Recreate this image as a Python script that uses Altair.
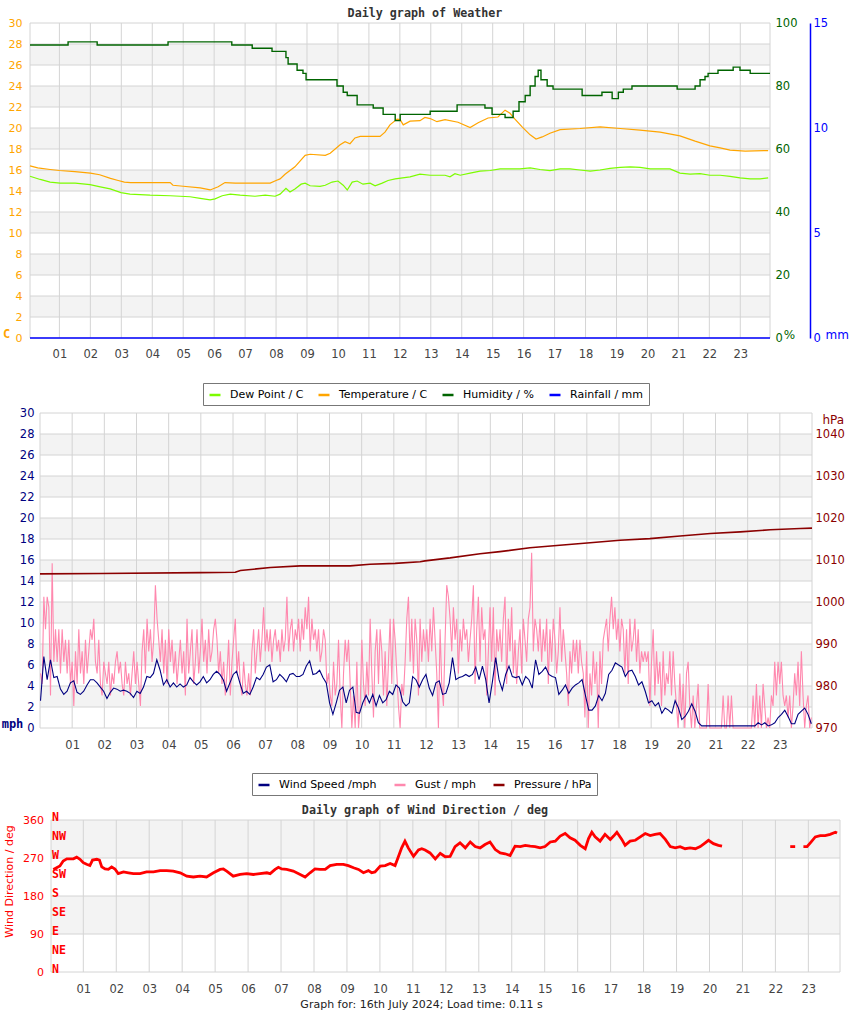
import altair as alt
import numpy as np
import pandas as pd

# ---------------------------------------------------------------- data
HOURS = list(range(1, 24))
TEMP_TICKS = list(range(0, 31, 2))
HUM_TICKS = [0, 20, 40, 60, 80, 100]
RAIN_TICKS = [0, 5, 10, 15]
WIND_TICKS = list(range(0, 31, 2))
PRES_TICKS = [970, 980, 990, 1000, 1010, 1020, 1030, 1040]
DIR_TICKS = [0, 90, 180, 270, 360]

P1_SERIES = ["Dew Point / C", "Temperature / C", "Humidity / %", "Rainfall / mm"]
P1_COLORS = ["#7cfc00", "#ffa500", "#006400", "#0000ff"]
P2_SERIES = ["Wind Speed /mph", "Gust / mph", "Pressure / hPa"]
P2_COLORS = ["#000080", "#ff88ae", "#8b0000"]

temp_h = [0.05, 0.3, 0.7, 1.0, 1.5, 2.0, 2.3, 2.65, 2.9, 3.1, 3.3, 4.58, 4.67, 5.0, 5.55, 5.87, 6.13, 6.35, 6.68, 7.81,
          8.0, 8.13, 8.29, 8.61, 8.94, 9.1, 9.59, 9.75, 10.07, 10.23, 10.39, 10.55, 10.72, 11.36, 11.52, 11.68, 11.91,
          12.01, 12.11, 12.33, 12.65, 12.81, 12.98, 13.2, 13.46, 13.88, 14.27, 14.53, 14.85, 15.17, 15.4, 15.56, 15.72,
          15.95, 16.21, 16.4, 16.6, 16.85, 17.18, 17.82, 18.47, 19.12, 19.76, 20.41, 21.05, 21.54, 22.02, 22.35, 22.67,
          23.16, 23.9]
temp_v = [16.4, 16.2, 16.05, 15.95, 15.85, 15.7, 15.55, 15.2, 15.0, 14.85, 14.8, 14.8, 14.55, 14.45, 14.3, 14.1, 14.4,
          14.8, 14.75, 14.75, 15.0, 15.15, 15.6, 16.3, 17.4, 17.5, 17.4, 17.6, 18.4, 18.7, 18.5, 19.05, 19.2, 19.2, 19.6,
          20.3, 20.85, 20.8, 20.3, 20.65, 20.7, 21.0, 20.9, 20.6, 20.8, 20.55, 20.05, 20.5, 20.95, 21.05, 21.7, 21.4,
          20.85, 20.1, 19.35, 18.95, 19.15, 19.5, 19.85, 19.95, 20.1, 19.95, 19.8, 19.6, 19.25, 18.75, 18.3, 18.1, 17.9,
          17.8, 17.85]

dew_h = [0.05, 0.38, 0.70, 1.02, 1.51, 1.99, 2.32, 2.64, 2.99, 3.28, 3.93, 4.58, 4.90, 5.22, 5.55, 5.87, 6.03, 6.26,
         6.52, 6.84, 7.32, 7.65, 7.97, 8.13, 8.32, 8.45, 8.61, 8.81, 8.94, 9.10, 9.42, 9.59, 9.81, 10.0, 10.17, 10.30,
         10.46, 10.62, 10.81, 11.04, 11.20, 11.43, 11.62, 11.85, 12.33, 12.65, 12.98, 13.46, 13.62, 13.78, 13.95, 14.27,
         14.59, 14.92, 15.24, 15.56, 15.88, 16.21, 16.53, 16.85, 17.18, 17.50, 17.82, 18.15, 18.47, 18.79, 19.12, 19.44,
         19.76, 20.09, 20.41, 20.73, 21.05, 21.38, 21.70, 22.02, 22.35, 22.67, 22.99, 23.32, 23.64, 23.90]
dew_v = [15.4, 15.1, 14.85, 14.75, 14.75, 14.6, 14.4, 14.2, 13.85, 13.7, 13.6, 13.55, 13.5, 13.45, 13.3, 13.15, 13.25,
         13.55, 13.7, 13.6, 13.5, 13.6, 13.5, 13.7, 14.25, 13.9, 14.2, 14.65, 14.75, 14.5, 14.45, 14.55, 14.85, 14.95,
         14.55, 14.1, 14.85, 14.95, 14.65, 14.75, 14.5, 14.75, 15.0, 15.15, 15.35, 15.6, 15.5, 15.5, 15.35, 15.65, 15.5,
         15.7, 15.9, 15.95, 16.1, 16.1, 16.1, 16.2, 16.05, 15.95, 16.1, 16.1, 16.0, 15.9, 16.0, 16.15, 16.25, 16.3,
         16.25, 16.1, 16.1, 16.1, 15.7, 15.6, 15.65, 15.5, 15.5, 15.4, 15.25, 15.15, 15.15, 15.25]

hum_h = [0.05, 1.28, 2.22, 4.51, 6.57, 7.23, 7.87, 8.32, 8.39, 8.68, 8.87, 8.97, 9.97, 10.17, 10.30, 10.62, 11.14,
         11.46, 11.85, 12.01, 12.98, 13.85, 14.75, 14.98, 15.40, 15.66, 15.85, 16.05, 16.21, 16.37, 16.47, 16.56, 16.76,
         16.95, 17.89, 18.53, 18.86, 19.06, 19.22, 19.50, 20.96, 21.54, 21.70, 21.86, 21.96, 22.28, 22.77, 22.99, 23.32,
         23.96]
hum_v = [93, 94, 93, 94, 93, 92, 91, 89, 87, 85, 84, 82, 80, 78, 77, 74, 73, 71, 69, 71, 72, 74, 73, 71, 70, 72, 75, 77,
         80, 83, 85, 82, 80, 79, 77, 78, 76, 78, 79, 80, 79, 80, 82, 83, 84, 85, 86, 85, 84, 84]

rain_h = [0.05, 23.96]
rain_v = [0.0, 0.0]

pres_h = [0.0, 1.88, 4.98, 6.07, 6.23, 7.16, 8.09, 9.02, 9.64, 10.26, 11.04, 11.82, 11.97, 12.75, 13.68, 14.30, 15.23,
          16.16, 17.10, 18.03, 18.96, 19.90, 20.84, 21.77, 22.70, 23.64, 24.0]
pres_v = [1006.7, 1006.8, 1007.0, 1007.1, 1007.5, 1008.2, 1008.6, 1008.6, 1008.6, 1009.0, 1009.2, 1009.6, 1009.8,
          1010.5, 1011.5, 1012.0, 1012.9, 1013.5, 1014.1, 1014.7, 1015.1, 1015.7, 1016.3, 1016.7, 1017.2, 1017.5,
          1017.6]

# wind speed, logged on a regular grid through the day
wind_v = [2.6, 6.8, 4.6, 6.5, 4.8, 4.9, 3.7, 3.2, 3.5, 4.3, 4.5, 3.4, 3.2, 3.5, 4.1, 4.6, 4.6, 4.3, 3.9, 3.5,
          2.8, 3.4, 3.8, 3.7, 3.5, 3.6, 3.5, 3.3, 2.9, 3.5, 3.3, 3.9, 4.9, 4.8, 5.2, 6.5, 5.5, 4.1, 4.6, 3.9,
          4.3, 3.9, 4.2, 3.9, 4.1, 4.8, 4.4, 4.1, 4.4, 4.9, 4.3, 4.6, 5.1, 5.4, 5.1, 4.6, 3.5, 4.3, 5.1, 5.4,
          4.3, 3.3, 3.5, 3.2, 3.9, 4.8, 4.6, 5.1, 5.8, 6.0, 4.4, 4.6, 5.1, 4.8, 4.4, 5.1, 5.2, 4.9, 4.9, 5.1,
          5.9, 6.4, 5.1, 5.2, 5.5, 4.8, 4.3, 2.4, 1.3, 2.4, 3.6, 3.9, 2.4, 3.6, 3.9, 1.5, 1.4, 2.4, 3.1, 2.4,
          3.2, 2.1, 3.1, 2.4, 2.7, 3.5, 3.2, 4.1, 3.8, 2.5, 2.1, 2.4, 4.9, 4.6, 3.9, 4.6,
          5.1, 3.8, 3.1, 4.3, 4.5, 3.2, 3.3, 4.3, 6.7, 4.6, 4.8, 4.9, 5.1, 4.9, 5.1, 5.8, 4.6, 5.9, 4.6, 2.4,
          4.4, 6.7, 4.6, 3.6, 5.1, 5.9, 4.9, 4.8, 4.9, 4.1, 4.9, 4.6, 3.8, 6.5, 5.1, 5.4, 5.8, 5.1, 4.9, 4.8,
          3.2, 3.6, 4.1, 3.3, 3.8, 4.1, 4.3, 4.6, 3.1, 1.7, 1.7, 2.1, 3.1, 2.6, 3.3, 5.1, 5.5, 6.2, 6.0, 5.8,
          4.9, 5.4, 5.5, 4.9, 4.1, 4.4, 3.5, 2.4, 2.6, 2.1, 2.4, 1.4, 1.9, 1.7, 1.4, 2.6, 1.9, 0.8, 1.1, 1.6,
          2.3, 1.6, 0.5, 0.2, 0.2, 0.2, 0.2, 0.2, 0.2, 0.2, 0.2, 0.2, 0.2, 0.2, 0.2, 0.2, 0.2, 0.2, 0.2, 0.2,
          0.5, 0.3, 0.5, 0.2, 0.3, 0.5, 1.0, 1.3, 1.7, 1.1, 0.4, 0.4, 1.3, 1.6, 1.9, 1.3, 0.4]

gust_v = [5.2, 4.2, 12.5, 9.4, 12.5, 11.5, 3.1, 15.7, 6.3, 9.4, 6.3, 9.4, 5.2, 9.4, 6.3, 8.4, 5.2, 8.4, 4.2, 6.3,
          2.1, 7.3, 4.2, 9.4, 5.2, 7.3, 4.2, 8.4, 5.2, 7.3, 9.4, 8.4, 10.4, 6.3, 5.2, 8.4, 4.2, 3.1, 6.3, 5.2,
          4.2, 6.3, 3.1, 5.2, 4.2, 6.3, 7.3, 5.2, 6.3, 4.2, 3.1, 6.3, 4.2, 5.2, 3.1, 5.2, 7.3, 4.2, 6.3, 4.2,
          2.1, 7.3, 9.4, 5.2, 10.4, 7.3, 9.4, 6.3, 8.4, 13.6, 10.4, 8.4, 6.3, 9.4, 5.2, 8.4, 4.2, 9.4, 6.3, 8.4,
          5.2, 7.3, 4.2, 6.3, 8.4, 5.2, 7.3, 3.1, 10.4, 5.2, 7.3, 9.4, 4.2, 6.3, 9.4, 5.2, 7.3, 10.4, 6.3, 8.4,
          5.2, 9.4, 6.3, 7.3, 9.4, 10.4, 8.4, 5.2, 7.3, 4.2, 6.3, 3.1, 5.2, 8.4, 3.1, 6.3, 8.4, 10.4, 5.2, 7.3,
          4.2, 3.1, 6.3, 4.2, 3.1, 5.2, 3.1, 7.3, 9.4, 5.2, 7.3, 9.4, 6.3, 8.4, 11.5, 7.3, 9.4, 7.3, 9.4, 6.3,
          8.4, 9.4, 7.3, 8.4, 6.3, 9.4, 7.3, 8.4, 12.5, 7.3, 9.4, 10.4, 7.3, 9.4, 8.4, 10.4, 7.3, 10.4, 8.4, 11.5,
          9.4, 12.5, 7.3, 10.4, 8.4, 9.4, 7.3, 9.4, 6.3, 7.3, 9.4, 8.4, 4.2, 5.2, 3.1, 2.1, 6.3, 3.1, 4.2, 8.4,
          3.1, 0, 5.2, 8.4, 6.3, 8.4, 4.2, 0, 3.1, 0, 6.3, 0, 2.1, 8.4, 4.2, 2.1, 6.3, 3.1, 10.4, 5.2,
          1.0, 7.3, 9.4, 4.2, 9.4, 7.3, 3.1, 7.3, 2.1, 6.3, 10.4, 4.2, 10.4, 8.4, 5.2, 2.1, 0, 4.2, 3.1, 6.3,
          10.4, 12.5, 6.3, 10.4, 5.2, 10.4, 8.4, 3.1, 10.4, 6.3, 9.4,
          7.3, 9.4, 6.3, 10.4, 7.3, 11.5, 8.4, 5.2, 0, 9.4, 4.2, 2.1, 8.4, 13.6, 12.5, 10.4, 7.3, 11.5, 8.4, 10.4,
          5.2, 9.4, 7.3, 10.4, 8.4, 9.4, 6.3, 8.4, 10.4, 13.6, 4.2, 9.4, 12.5, 6.3, 11.5, 8.4, 9.4, 3.1, 7.3, 11.5,
          6.3, 11.5, 3.1, 9.4, 7.3, 9.4, 6.3, 10.4, 12.5, 4.2, 10.4, 7.3, 11.5, 5.2, 8.4, 4.2, 7.3, 9.4, 5.2, 10.4,
          8.4, 6.3, 10.4, 11.5, 16.7, 7.3, 10.4, 9.4, 7.3, 10.4, 6.3, 9.4, 7.3, 10.4, 4.2, 9.4, 6.3, 10.4, 8.4, 5.2,
          7.3, 11.5, 6.3, 9.4, 7.3, 5.2, 2.1, 7.3, 5.2, 8.4, 6.3, 8.4, 5.2, 8.4, 6.3, 5.2, 1.0, 7.3, 0, 5.2,
          3.1, 7.3, 4.2, 6.3, 0, 7.3, 4.2, 8.4, 9.4, 10.4, 7.3, 10.4, 12.5, 9.4, 11.5, 8.4, 10.4, 7.3, 10.4, 9.4,
          5.2, 9.4, 4.2, 10.4, 7.3, 8.4, 10.4, 6.3, 9.4, 5.2, 7.3, 6.3, 7.3, 6.3, 7.3, 2.1, 6.3, 9.4, 3.1, 7.3,
          4.2, 6.3, 2.1, 7.3, 3.1, 5.2, 4.2, 7.3, 3.1, 7.3, 4.2, 2.1, 0, 5.2, 1.0, 4.2, 0, 5.2, 6.3, 2.1,
          0, 3.1, 0, 2.1, 4.2, 0, 0, 0, 0, 0, 4.2, 0, 0, 0, 0, 0, 0, 0, 0, 3.1,
          0, 0, 3.1, 0, 3.1, 0, 0, 0, 0, 0, 0, 0, 0, 0, 0, 0, 0, 3.1, 0, 4.2,
          0, 3.1, 0, 4.2, 2.1, 0, 1.0, 0, 3.1, 2.1, 6.3, 3.1, 6.3, 4.2, 6.3, 3.1, 2.1, 3.1, 1.0, 3.1,
          0, 2.1, 5.2, 3.1, 6.3, 2.1, 7.3, 3.1, 0, 2.1, 3.1, 0, 1.0]

dir_h = [0.09, 0.19, 0.29, 0.39, 0.50, 0.70, 0.80, 0.90, 1.00, 1.10, 1.20, 1.28, 1.41, 1.49, 1.56, 1.66, 1.76, 1.86,
         1.96, 2.06, 2.22, 2.37, 2.52, 2.72, 2.92, 3.13, 3.33, 3.53, 3.73, 3.94, 4.14, 4.34, 4.54, 4.74, 4.95, 5.15,
         5.25, 5.35, 5.55, 5.76, 5.96, 6.16, 6.36, 6.57, 6.67, 6.82, 6.92, 7.02, 7.17, 7.37, 7.58, 7.73, 7.88, 8.03,
         8.18, 8.34, 8.49, 8.69, 8.89, 9.04, 9.20, 9.35, 9.50, 9.65, 9.75, 9.85, 10.01, 10.16, 10.31, 10.46, 10.56,
         10.66, 10.76, 10.86, 11.02, 11.17, 11.27, 11.37, 11.52, 11.68, 11.83, 11.98, 12.13, 12.28, 12.43, 12.59,
         12.74, 12.89, 13.04, 13.19, 13.34, 13.50, 13.65, 13.80, 13.95, 14.10, 14.26, 14.41, 14.56, 14.71, 14.86,
         15.01, 15.17, 15.32, 15.47, 15.62, 15.77, 15.92, 16.08, 16.23, 16.33, 16.43, 16.53, 16.68, 16.83, 16.99,
         17.09, 17.19, 17.34, 17.44, 17.59, 17.75, 17.90, 18.05, 18.20, 18.35, 18.50, 18.66, 18.81, 18.96, 19.11,
         19.26, 19.41, 19.57, 19.72, 19.87, 19.97, 20.12, 20.27, 20.38]
dir_v = [243, 247, 251, 263, 268, 268, 272, 267, 259, 255, 252, 265, 267, 265, 249, 244, 243, 249, 244, 233,
         237, 235, 233, 233, 237, 237, 240, 240, 239, 235, 227, 225, 227, 225, 235, 243, 244, 239, 227, 231,
         233, 231, 233, 235, 233, 243, 248, 244, 243, 239, 231, 225, 235, 244, 243, 243, 252, 255, 255, 252,
         247, 243, 235, 240, 235, 237, 251, 252, 257, 252, 273, 294, 310, 294, 274, 289, 292, 289, 282, 268,
         281, 273, 274, 297, 306, 294, 308, 297, 294, 302, 308, 290, 282, 280, 276, 298, 297, 300, 298, 297,
         294, 297, 308, 310, 322, 328, 318, 312, 300, 292, 316, 331, 320, 310, 326, 314, 322, 331, 314, 300,
         310, 312, 320, 328, 323, 326, 328, 314, 297, 294, 297, 292, 294, 292, 297, 306, 312, 304, 300, 298]
dir2_h = [22.45, 22.60]
dir2_v = [297, 297]
dir3_h = [22.85, 22.96, 23.06, 23.21, 23.36, 23.51, 23.66, 23.82, 23.87]
dir3_v = [297, 297, 306, 320, 323, 323, 326, 331, 329]

COMPASS = ["N", "NE", "E", "SE", "S", "SW", "W", "NW", "N"]
COMPASS_DEG = [0, 45, 90, 135, 180, 225, 270, 315, 360]

# ---------------------------------------------------------------- layout / style
W, H = 850, 1017
FONT = "DejaVu Sans"
MONO = "DejaVu Sans Mono"
GRID = "#d4d4d4"
BAND = "#f3f3f3"

P1 = (30, 770, 23, 338)     # x0, x1, y0(top), y1(bottom) of the plot areas
P2 = (40, 812, 413, 728)
P3 = (51, 840, 820, 972)
X1_DOM = [0.05, 23.96]
X2_DOM = [0.0, 24.0]
X3_DOM = [0.02, 23.96]


def xsc(p, dom):
    return alt.Scale(domain=list(dom), range=[p[0], p[1]], nice=False, zero=False)


def ysc(p, dom):
    return alt.Scale(domain=list(dom), range=[p[3], p[2]], nice=False, zero=False)


def background(p, xdom, ydom, band_lo, band_hi, grid_y):
    xs, ys = xsc(p, xdom), ysc(p, ydom)
    bands = alt.Chart(pd.DataFrame({"lo": band_lo, "hi": band_hi})).mark_rect(color=BAND).encode(
        x=alt.XDatum(xdom[0], type="quantitative", scale=xs, axis=None),
        x2=alt.X2Datum(xdom[1]),
        y=alt.Y("lo:Q", scale=ys, axis=None),
        y2=alt.Y2("hi"),
    )
    hgrid = alt.Chart(pd.DataFrame({"v": grid_y})).mark_rule(color=GRID, strokeWidth=1).encode(
        x=alt.XDatum(xdom[0], type="quantitative", scale=xs, axis=None),
        x2=alt.X2Datum(xdom[1]),
        y=alt.Y("v:Q", scale=ys, axis=None),
    )
    vgrid = alt.Chart(pd.DataFrame({"h": HOURS})).mark_rule(color=GRID, strokeWidth=1).encode(
        x=alt.X("h:Q", scale=xs, axis=None),
        y=alt.YDatum(ydom[0], type="quantitative", scale=ys, axis=None),
        y2=alt.Y2Datum(ydom[1]),
    )
    frame = alt.Chart(alt.Data(values=[{}])).mark_rect(fillOpacity=0, stroke=GRID, strokeWidth=1).encode(
        x=alt.XDatum(xdom[0], type="quantitative", scale=xs, axis=None),
        x2=alt.X2Datum(xdom[1]),
        y=alt.YDatum(ydom[0], type="quantitative", scale=ys, axis=None),
        y2=alt.Y2Datum(ydom[1]),
    )
    return [bands, hgrid, vgrid, frame]


def ax(orient, offset, values, color, pad, size=11.5, **kw):
    return alt.Axis(orient=orient, offset=offset, values=values, labelColor=color, labelFont=FONT,
                    labelFontSize=size, labelPadding=pad, ticks=False, tickSize=0, grid=False,
                    labelFlush=False, labelOverlap=False, **kw)


def hour_axis(p, pad):
    return ax("bottom", p[3] - H, HOURS, "#444", pad, domain=False, title=None,
              labelExpr="(datum.value < 10 ? '0' : '') + datum.value")


def legend(x, y, cp):
    return alt.Legend(orient="none", legendX=x, legendY=y, direction="horizontal", title=None,
                      symbolType="stroke", symbolSize=121, symbolStrokeWidth=2.5, labelFont=FONT,
                      labelFontSize=11, labelColor="#000", fillColor="white", strokeColor="#777",
                      padding=5, columnPadding=cp, labelOffset=8, cornerRadius=0, labelLimit=300)


def text_layer(txt, x, y, font=MONO, size=11.7, weight="bold", color="#333"):
    return alt.Chart(alt.Data(values=[{}])).mark_text(
        text=txt, font=font, fontSize=size, fontWeight=weight, color=color, align="center",
        baseline="middle").encode(x=alt.value(x), y=alt.value(y))


layers = []

# ---------------------------------------------------------------- panel 1: weather
xs1 = xsc(P1, X1_DOM)
layers += background(P1, X1_DOM, [0, 30], [2, 6, 10, 14, 18, 22, 26], [4, 8, 12, 16, 20, 24, 28],
                     list(range(2, 30, 2)))

td = pd.concat([
    pd.DataFrame({"h": dew_h, "v": dew_v, "s": P1_SERIES[0]}),
    pd.DataFrame({"h": temp_h, "v": temp_v, "s": P1_SERIES[1]}),
])
temp_axis = ax("left", -P1[0], TEMP_TICKS, "#ffa500", 8, size=11, domain=False, title="C",
               titleColor="#ffa500", titleFont=MONO, titleFontWeight="bold", titleFontSize=12, titleAngle=0,
               titleX=-24, titleY=333, titleAlign="center", titleBaseline="middle")
layers.append(alt.Chart(td).mark_line(strokeWidth=1.2).encode(
    x=alt.X("h:Q", scale=xs1, axis=hour_axis(P1, 10)),
    y=alt.Y("v:Q", scale=ysc(P1, [0, 30]), axis=temp_axis),
    color=alt.Color("s:N", scale=alt.Scale(domain=P1_SERIES, range=P1_COLORS), legend=legend(203, 383, 9)),
))

hum_axis = ax("right", P1[1] - W, HUM_TICKS, "#006400", 5, domain=False, title="%", titleColor="#006400",
              titleFont=FONT, titleFontWeight="normal", titleFontSize=12, titleAngle=0, titleX=19, titleY=334,
              titleAlign="center", titleBaseline="middle")
layers.append(alt.Chart(pd.DataFrame({"h": hum_h, "v": hum_v})).mark_line(
    color="#006400", strokeWidth=1.4, interpolate="step-after").encode(
    x=alt.X("h:Q", scale=xs1, axis=None),
    y=alt.Y("v:Q", scale=ysc(P1, [0, 100]), axis=hum_axis),
))

rain_axis = ax("right", 810 - W, RAIN_TICKS, "#0000ff", 3, domain=True, domainColor="#0000ff", domainWidth=1.5,
               title="mm", titleColor="#0000ff", titleFont=FONT, titleFontWeight="normal", titleFontSize=12,
               titleAngle=0, titleX=15, titleY=334, titleAlign="left", titleBaseline="middle")
layers.append(alt.Chart(pd.DataFrame({"h": rain_h, "v": rain_v})).mark_line(
    color="#0000ff", strokeWidth=1.5).encode(
    x=alt.X("h:Q", scale=xs1, axis=None),
    y=alt.Y("v:Q", scale=ysc(P1, [0, 15]), axis=rain_axis),
))

# ---------------------------------------------------------------- panel 2: wind / pressure
xs2 = xsc(P2, X2_DOM)
layers += background(P2, X2_DOM, [0, 30], [2, 6, 10, 14, 18, 22, 26], [4, 8, 12, 16, 20, 24, 28],
                     list(range(2, 30, 2)))

wind_t = np.linspace(0.016, 23.98, len(wind_v))
gust_t = np.linspace(0.016, 23.98, len(gust_v))
gd = pd.DataFrame({"h": gust_t, "v": gust_v, "s": P2_SERIES[1]})
wind_axis = ax("left", -P2[0], WIND_TICKS, "#000080", 6, domain=False, title="mph", titleColor="#000080",
               titleFont=MONO, titleFontWeight="bold", titleFontSize=12, titleAngle=0, titleX=-28, titleY=723,
               titleAlign="center", titleBaseline="middle")
layers.append(alt.Chart(gd).mark_line(strokeWidth=1.1).encode(
    x=alt.X("h:Q", scale=xs2, axis=hour_axis(P2, 11)),
    y=alt.Y("v:Q", scale=ysc(P2, [0, 30]), axis=wind_axis),
    color=alt.Color("s:N", scale=alt.Scale(domain=P2_SERIES, range=P2_COLORS), legend=legend(252, 773, 12)),
))
layers.append(alt.Chart(pd.DataFrame({"h": wind_t, "v": wind_v})).mark_line(
    color="#000080", strokeWidth=1.1).encode(
    x=alt.X("h:Q", scale=xs2, axis=None),
    y=alt.Y("v:Q", scale=ysc(P2, [0, 30]), axis=None),
))
pres_axis = ax("right", P2[1] - W, PRES_TICKS, "#8b0000", 3, domain=False, format="d", title="hPa",
               titleColor="#8b0000", titleFont=FONT, titleFontWeight="normal", titleFontSize=12, titleAngle=0,
               titleX=10, titleY=419, titleAlign="left", titleBaseline="middle")
layers.append(alt.Chart(pd.DataFrame({"h": pres_h, "v": pres_v})).mark_line(
    color="#8b0000", strokeWidth=1.6).encode(
    x=alt.X("h:Q", scale=xs2, axis=None),
    y=alt.Y("v:Q", scale=ysc(P2, [970, 1045]), axis=pres_axis),
))

# ---------------------------------------------------------------- panel 3: wind direction
xs3 = xsc(P3, X3_DOM)
yD = ysc(P3, [0, 360])
layers += background(P3, X3_DOM, [0, 360], [90, 270], [180, 360], [90, 180, 270])

layers.append(alt.Chart(pd.DataFrame({"lab": COMPASS, "d": COMPASS_DEG})).mark_text(
    font=MONO, fontSize=11.6, fontWeight="bold", color="#ff0000", align="left", baseline="middle",
    dx=1, dy=-2).encode(
    x=alt.XDatum(X3_DOM[0], type="quantitative", scale=xs3, axis=None),
    y=alt.Y("d:Q", scale=yD, axis=None),
    text="lab:N",
))

dd = pd.concat([
    pd.DataFrame({"h": dir_h, "v": dir_v, "seg": "a"}),
    pd.DataFrame({"h": dir2_h, "v": dir2_v, "seg": "b"}),
    pd.DataFrame({"h": dir3_h, "v": dir3_v, "seg": "c"}),
])
dir_axis = ax("left", -P3[0], DIR_TICKS, "#ff0000", 7.5, size=11, domain=False, title="Wind Direction / deg",
              titleColor="#ff0000", titleFont=FONT, titleFontWeight="normal", titleFontSize=11, titleAngle=270,
              titleX=-42, titleY=881, titleAlign="center", titleBaseline="middle")
layers.append(alt.Chart(dd).mark_line(color="#ff0000", strokeWidth=2.8).encode(
    x=alt.X("h:Q", scale=xs3, axis=hour_axis(P3, 11)),
    y=alt.Y("v:Q", scale=yD, axis=dir_axis),
    detail="seg:N",
))

# ---------------------------------------------------------------- titles
layers.append(text_layer("Daily graph of Weather", 425, 13))
layers.append(text_layer("Daily graph of Wind Direction / deg", 425, 810))
layers.append(text_layer("Graph for: 16th July 2024; Load time: 0.11 s", 421.5, 1005, font=FONT, size=11,
                         weight="normal", color="#222"))

chart = alt.layer(*layers).resolve_scale(
    x="independent", y="independent", color="independent"
).resolve_axis(
    x="independent", y="independent"
).resolve_legend(
    color="independent"
).properties(
    width=W, height=H, padding=0, autosize=alt.AutoSizeParams(type="none"), background="white"
).configure_view(strokeWidth=0)

chart.save("out.html", embed_options={"renderer": "svg", "actions": False})
